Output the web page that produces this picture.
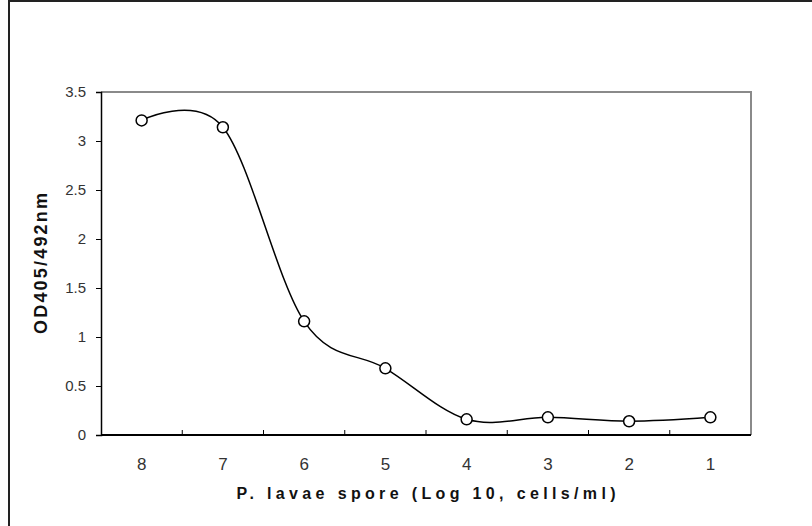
<!DOCTYPE html>
<html>
<head>
<meta charset="utf-8">
<script src="https://cdn.jsdelivr.net/npm/d3@7"></script>
<style>
    body { margin: 0; background: #fff; }
    svg { display: block; }
</style>
</head>
<body>
<div id="chart"></div>
<script>
// data
const categories = ["8", "7", "6", "5", "4", "3", "2", "1"];
const od_values = [3.21, 3.14, 1.16, 0.68, 0.16, 0.18, 0.14, 0.18];
const y_ticks = [0, 0.5, 1, 1.5, 2, 2.5, 3, 3.5];
const x_title = "P. lavae spore (Log 10, cells/ml)";
const y_title = "OD405/492nm";

const width = 812,
    height = 526;
const plot = { left: 101, right: 751, top: 92, bottom: 435 };
const font = "'Liberation Sans', Arial, sans-serif";

const svg = d3
    .select("#chart")
    .append("svg")
    .attr("width", width)
    .attr("height", height);

// outer frame (only top and left edges are visible)
svg.append("rect")
    .attr("x", 9)
    .attr("y", 1)
    .attr("width", width + 20)
    .attr("height", height + 20)
    .attr("fill", "none")
    .attr("stroke", "#222")
    .attr("stroke-width", 2);

const x = d3
    .scaleBand()
    .domain(categories)
    .range([plot.left, plot.right]);
const y = d3
    .scaleLinear()
    .domain([0, 3.5])
    .range([plot.bottom, plot.top]);
const cx = (d) => x(d) + x.bandwidth() / 2;

// plot box: top and right in grey
svg.append("path")
    .attr("d", `M${plot.left},${plot.top}H${plot.right}V${plot.bottom}`)
    .attr("fill", "none")
    .attr("stroke", "#8a8a8a")
    .attr("stroke-width", 2);

// y axis
const y_axis = svg
    .append("g")
    .attr("transform", `translate(${plot.left},0)`)
    .call(
        d3
            .axisLeft(y)
            .tickValues(y_ticks)
            .tickFormat(d3.format("~g"))
            .tickSize(5)
            .tickPadding(10)
    )
    .attr("font-family", font)
    .attr("font-size", 15);
y_axis.select(".domain").attr("stroke", "#000").attr("stroke-width", 1.5);
y_axis.selectAll("line").attr("stroke", "#000");
y_axis.selectAll("text").attr("fill", "#333");

// x axis: ticks between categories, labels at centres
const x_axis = svg.append("g").attr("transform", `translate(0,${plot.bottom})`);
x_axis.append("line")
    .attr("x1", plot.left)
    .attr("x2", plot.right)
    .attr("stroke", "#000")
    .attr("stroke-width", 2);
x_axis.selectAll(".xtick")
    .data(categories.slice(1))
    .join("line")
    .attr("class", "xtick")
    .attr("x1", (d) => x(d))
    .attr("x2", (d) => x(d))
    .attr("y1", 0)
    .attr("y2", -5)
    .attr("stroke", "#000");
x_axis.selectAll(".xlabel")
    .data(categories)
    .join("text")
    .attr("class", "xlabel")
    .attr("x", (d) => cx(d))
    .attr("y", 35)
    .attr("text-anchor", "middle")
    .attr("font-family", font)
    .attr("font-size", 17)
    .attr("fill", "#333")
    .text((d) => d);

// axis titles
svg.append("text")
    .attr("x", 426)
    .attr("y", 499)
    .attr("text-anchor", "middle")
    .attr("font-family", font)
    .attr("font-size", 16)
    .attr("font-weight", "bold")
    .attr("fill", "#111")
    .attr("textLength", 379)
    .attr("lengthAdjust", "spacing")
    .text(x_title);

svg.append("text")
    .attr("transform", `translate(47,${(plot.top + plot.bottom) / 2}) rotate(-90)`)
    .attr("text-anchor", "middle")
    .attr("font-family", font)
    .attr("font-size", 18)
    .attr("font-weight", "bold")
    .attr("fill", "#111")
    .attr("textLength", 141)
    .attr("lengthAdjust", "spacing")
    .text(y_title);

// smoothed line + markers
const points = categories.map((c, i) => ({ c: c, v: od_values[i] }));
const line = d3
    .line()
    .x((d) => cx(d.c))
    .y((d) => y(d.v))
    .curve(d3.curveCardinal.tension(0));

svg.append("path")
    .datum(points)
    .attr("d", line)
    .attr("fill", "none")
    .attr("stroke", "#000")
    .attr("stroke-width", 1.5);

svg.selectAll(".marker")
    .data(points)
    .join("circle")
    .attr("class", "marker")
    .attr("cx", (d) => cx(d.c))
    .attr("cy", (d) => y(d.v))
    .attr("r", 5.5)
    .attr("fill", "#fff")
    .attr("stroke", "#000")
    .attr("stroke-width", 1.5);
</script>
</body>
</html>
